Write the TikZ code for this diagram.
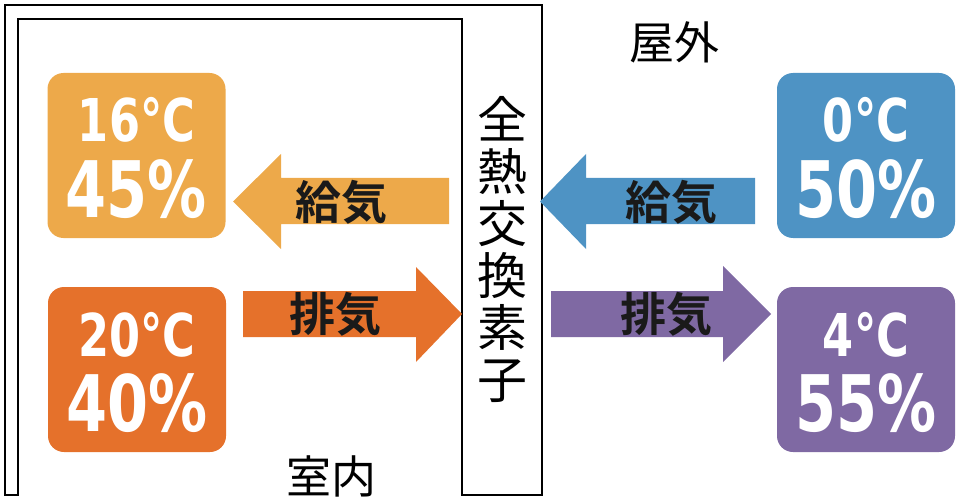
\documentclass[tikz,border=0pt]{standalone}
\usepackage{fontspec}
\newfontfamily\cjk{Noto Sans CJK JP}
\newfontfamily\cjkbold{Noto Sans CJK JP Bold}
\newfontfamily\numfont[FakeStretch=0.84]{DejaVu Sans Condensed Bold}
\usetikzlibrary{positioning}
\definecolor{supplyincolor}{RGB}{237,169,74}
\definecolor{exhaustincolor}{RGB}{229,113,43}
\definecolor{supplyoutcolor}{RGB}{78,147,196}
\definecolor{exhaustoutcolor}{RGB}{127,105,163}
\definecolor{labelcolor}{RGB}{26,26,26}
\tikzset{
    climate/.style={
        rectangle,
        rounded corners=16pt,
        minimum width=178pt,
        minimum height=165pt,
        inner sep=0pt
    },
    templine/.style={inner sep=0pt, anchor=base, text=white, font=\numfont\fontsize{59}{59}\selectfont},
    humidline/.style={inner sep=0pt, anchor=base, text=white, font=\numfont\fontsize{78}{78}\selectfont},
    flowlabel/.style={inner sep=0pt, text=labelcolor, font=\cjkbold\fontsize{46}{46}\selectfont},
    placelabel/.style={inner sep=0pt, text=black, font=\cjk\fontsize{45}{45}\selectfont},
    wall/.style={draw=black, line width=1.6pt, line join=miter}
}
\begin{document}
\begin{tikzpicture}[x=1pt, y=-1pt]
    \useasboundingbox (0,0) rectangle (960,497);

    % Building wall with the exchanger element
    \draw[wall] (5,495) -- (5,5) -- (542,5) -- (542,495) -- (462,495)
        -- (462,19) -- (18,19) -- (18,495) -- cycle;
    \node[inner sep=0pt, align=center, font=\cjk\fontsize{50}{52}\selectfont] (element) at (502,250)
        {全\\熱\\交\\換\\素\\子};

    % Temperature / humidity
    \node[climate, fill=supplyincolor] (supplyin) at (136.5,155.5) {};
    \node[climate, fill=exhaustincolor] (exhaustin) at (137,369.5) {};
    \node[climate, fill=supplyoutcolor] (supplyout) at (866,155.5) {};
    \node[climate, fill=exhaustoutcolor] (exhaustout) at (866,369.5) {};

    \node[templine] (supplyintemp) at ([yshift=13.5pt]supplyin.center) {16°C};
    \node[humidline] (supplyinhum) at ([yshift=-61.5pt]supplyin.center) {45\%};
    \node[templine] (exhaustintemp) at ([yshift=13.5pt]exhaustin.center) {20°C};
    \node[humidline] (exhaustinhum) at ([yshift=-61.5pt]exhaustin.center) {40\%};
    \node[templine] (supplyouttemp) at ([yshift=13.5pt]supplyout.center) {0°C};
    \node[humidline] (supplyouthum) at ([yshift=-61.5pt]supplyout.center) {50\%};
    \node[templine] (exhaustouttemp) at ([yshift=13.5pt]exhaustout.center) {4°C};
    \node[humidline] (exhaustouthum) at ([yshift=-61.5pt]exhaustout.center) {55\%};

    % Air flows
    \fill[supplyincolor] (449,178) -- (281,178) -- (281,154) -- (233,201.5)
        -- (281,249) -- (281,224) -- (449,224) -- cycle;
    \fill[exhaustincolor] (243,291) -- (416,291) -- (416,267) -- (462,314)
        -- (416,362) -- (416,337) -- (243,337) -- cycle;
    \fill[supplyoutcolor] (755,178) -- (586,178) -- (586,154) -- (540,201.5)
        -- (586,249) -- (586,224) -- (755,224) -- cycle;
    \fill[exhaustoutcolor] (551,291) -- (723,291) -- (723,266) -- (771,314)
        -- (723,362) -- (723,337) -- (551,337) -- cycle;

    \node[flowlabel] (supplyinlabel) at (341,202) {給気};
    \node[flowlabel] (exhaustinlabel) at (335,314) {排気};
    \node[flowlabel] (supplyoutlabel) at (671,202) {給気};
    \node[flowlabel] (exhaustoutlabel) at (666,314) {排気};

    % Places
    \node[placelabel] (outside) at (674,42) {屋外};
    \node[placelabel] (inside) at (331,476) {室内};
\end{tikzpicture}
\end{document}
